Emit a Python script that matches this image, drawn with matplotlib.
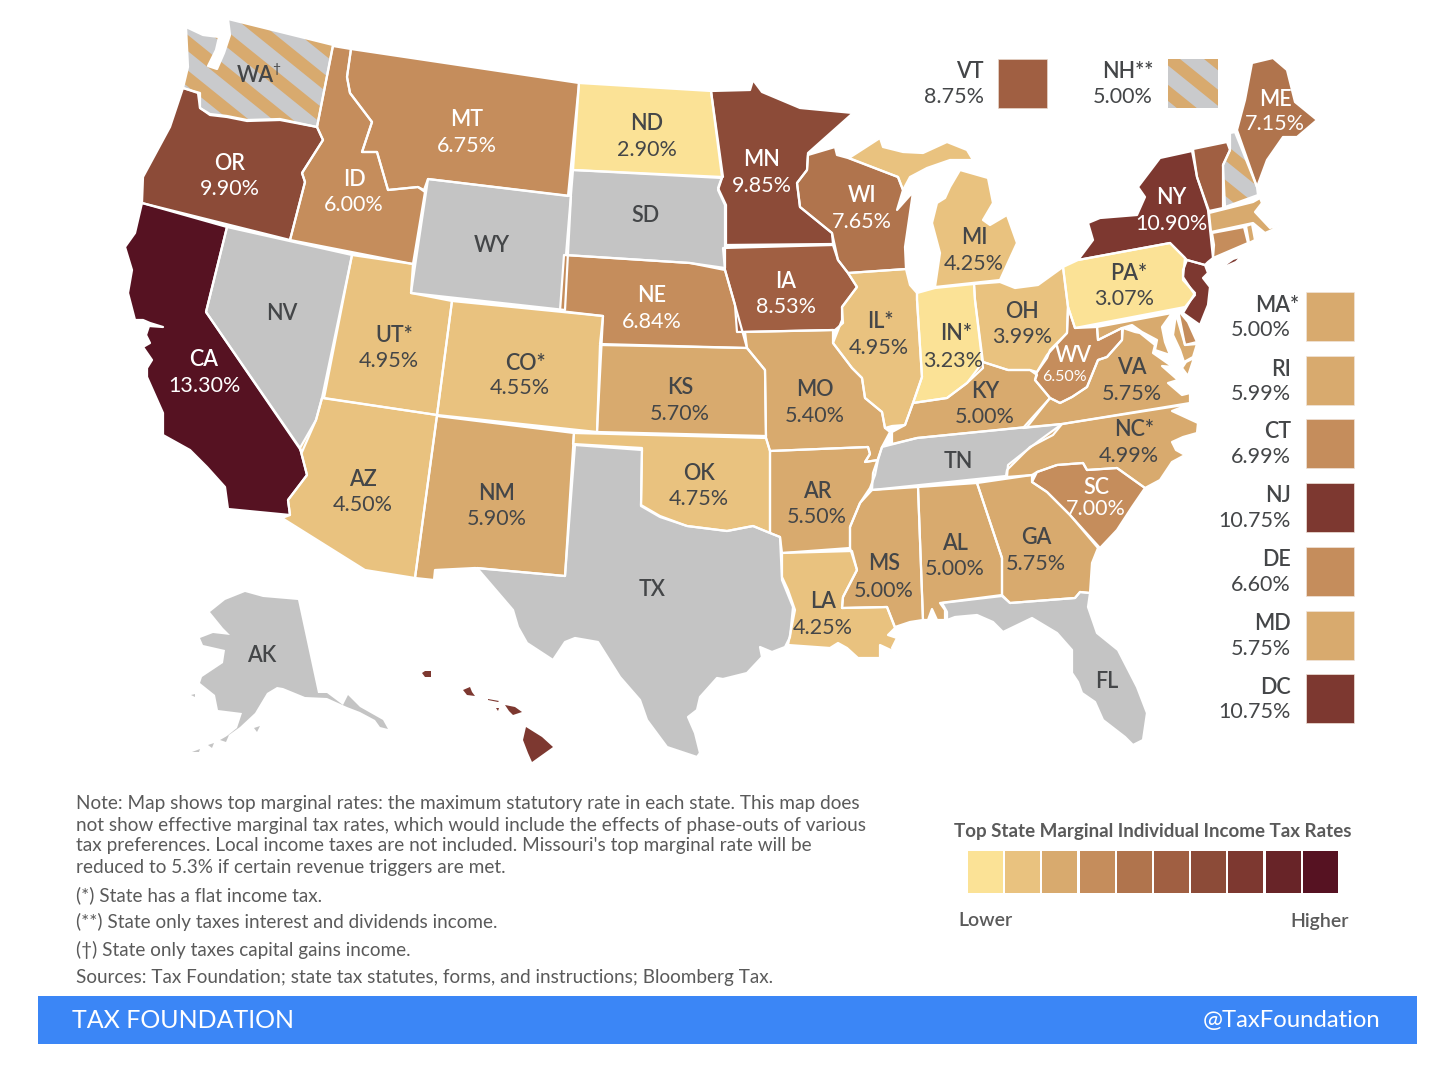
import numpy as np
import matplotlib
matplotlib.use('Agg')
import matplotlib.pyplot as plt
from matplotlib.patches import Polygon, Rectangle

plt.rcParams['font.family'] = ['Lato', 'DejaVu Sans']

# colour scale, low to high
scale = ['#FBE296', '#E9C27F', '#D8AA6E', '#C58D5C', '#B0744D',
         '#A05F42', '#8C4B38', '#7D3830', '#682428', '#561222']
gray = '#C4C4C4'
hatch_gray = '#C9CACC'
dark_text = '#444648'

# state, label, rate text, colour bin (-1 no tax, -2 striped)
states = ['WA', 'OR', 'CA', 'ID', 'NV', 'MT', 'WY', 'UT', 'AZ', 'CO', 'NM', 'ND', 'SD', 'NE', 'KS', 'OK', 'TX',
          'MN', 'IA', 'MO', 'AR', 'LA', 'WI', 'IL', 'MS', 'MI', 'IN', 'KY', 'TN', 'AL', 'OH', 'WV', 'GA', 'FL',
          'SC', 'NC', 'VA', 'PA', 'NY', 'ME', 'AK', 'HI']
labels = ['WA', 'OR', 'CA', 'ID', 'NV', 'MT', 'WY', 'UT*', 'AZ', 'CO*', 'NM', 'ND', 'SD', 'NE', 'KS', 'OK', 'TX',
          'MN', 'IA', 'MO', 'AR', 'LA', 'WI', 'IL*', 'MS', 'MI', 'IN*', 'KY', 'TN', 'AL', 'OH', 'WV', 'GA', 'FL',
          'SC', 'NC*', 'VA', 'PA*', 'NY', 'ME', 'AK', 'HI']
rates = ['', '9.90%', '13.30%', '6.00%', '', '6.75%', '', '4.95%', '4.50%', '4.55%', '5.90%', '2.90%', '', '6.84%',
         '5.70%', '4.75%', '', '9.85%', '8.53%', '5.40%', '5.50%', '4.25%', '7.65%', '4.95%', '5.00%', '4.25%',
         '3.23%', '5.00%', '', '5.00%', '3.99%', '6.50%', '5.75%', '', '7.00%', '4.99%', '5.75%', '3.07%',
         '10.90%', '7.15%', '', '11.00%']
bins = [-2, 6, 9, 3, -1, 3, -1, 1, 1, 1, 2, 0, -1, 3, 2, 1, -1, 6, 5, 2, 2, 1, 4, 1, 2, 1, 0, 2, -1, 2, 1, 3, 2, -1,
        3, 2, 2, 0, 7, 4, -1, 7]
label_x = [255, 230, 204, 354, 282, 467, 492, 394, 363, 525, 497, 647, 645, 652, 680, 699, 652, 762, 786, 815, 817,
           823, 862, 880, 884, 974, 956, 985, 958, 955, 1022, 1073, 1036, 1107, 1096, 1134, 1132, 1129, 1171, 1275,
           262, 471]
label_y = [73, 161, 358, 177, 311, 118, 243, 333, 477, 361, 491, 122, 214, 294, 386, 471, 587, 158, 279, 388, 489,
           600, 194, 319, 562, 236, 332, 390, 460, 541, 309, 354, 536, 679, 485, 428, 366, 271, 196, 97, 653, 718]
rate_dy = [0, 26, 26, 26, 0, 26, 0, 26, 26, 25, 26, 26, 0, 26, 26, 26, 0, 26, 26, 26, 26, 26, 26, 27, 27, 26, 27,
           25, 0, 26, 26, 21, 26, 0, 22, 26, 26, 26, 26, 25, 0, 26]
rate_dx = {'UT': -5, 'CO': -5, 'IL': -1, 'IN': -3, 'NC': -5, 'PA': -5, 'WV': -9}

# extra pieces not labelled on the map
extras = ['VT', 'NH', 'MA', 'RI', 'CT', 'NJ', 'DE', 'MD']
extra_bins = [5, -2, 2, 2, 3, 7, 3, 2]

# outlines in picture pixels
outlines = {
    'WA': [[(186, 27), (203, 35), (219, 37), (216, 50), (208, 66), (217, 69), (224, 53), (230, 35), (228, 19),
            (333, 45), (317, 127), (280, 119), (247, 120), (227, 116), (210, 114), (200, 108), (200, 93), (183, 88),
            (188, 67)]],
    'OR': [[(183, 88), (198, 93), (200, 108), (210, 115), (227, 117), (247, 121), (280, 120), (317, 127), (323, 140),
            (302, 173), (305, 182), (290, 240), (142, 203), (143, 177), (170, 127)]],
    'CA': [[(142, 203), (227, 227), (206, 312), (300, 448), (307, 475), (288, 500), (290, 515), (228, 509), (225, 487),
            (207, 467), (190, 450), (163, 435), (163, 413), (147, 377), (147, 368), (152, 360), (143, 347), (150, 343),
            (146, 335), (149, 326), (163, 327), (150, 323), (143, 320), (135, 320), (128, 293), (132, 270), (125, 247),
            (135, 233)]],
    'ID': [[(333, 46), (351, 49), (347, 77), (350, 93), (372, 122), (365, 143), (362, 152), (377, 152), (388, 190),
            (418, 187), (425, 192), (413, 264), (290, 240), (305, 182), (302, 173), (323, 140), (317, 127)]],
    'NV': [[(227, 227), (352, 255), (322, 398), (316, 420), (302, 452), (206, 312)]],
    'MT': [[(351, 49), (579, 83), (568, 196), (428, 179), (424, 190), (418, 187), (388, 190), (377, 152), (362, 152),
            (365, 143), (372, 122), (350, 93), (347, 77)]],
    'WY': [[(428, 179), (571, 196), (565, 310), (411, 293)]],
    'UT': [[(352, 255), (413, 264), (411, 293), (452, 301), (437, 415), (324, 398)]],
    'AZ': [[(322, 398), (437, 415), (415, 578), (365, 570), (282, 518), (290, 515), (288, 500), (307, 475), (300, 448), (316, 420)]],
    'CO': [[(452, 301), (603, 316), (597, 432), (437, 415)]],
    'NM': [[(437, 416), (574, 433), (565, 576), (475, 568), (435, 570), (434, 580), (415, 578)]],
    'ND': [[(579, 83), (711, 91), (723, 177), (573, 170)]],
    'SD': [[(573, 170), (722, 178), (718, 190), (725, 205), (725, 268), (690, 263), (566, 255)]],
    'NE': [[(564, 255), (690, 263), (725, 270), (735, 305), (747, 348), (600, 344), (603, 316), (560, 311)]],
    'KS': [[(600, 345), (747, 348), (765, 370), (766, 436), (597, 432)]],
    'OK': [[(574, 433), (766, 438), (770, 451), (770, 533), (753, 526), (727, 531), (687, 526), (660, 516), (641, 505),
            (642, 448), (573, 444)]],
    'TX': [[(575, 445), (642, 450), (641, 506), (660, 517), (687, 526), (727, 531), (753, 526), (770, 533), (780, 537),
            (782, 580), (793, 607), (790, 637), (785, 647), (772, 652), (760, 647), (762, 657), (747, 673), (723, 679),
            (717, 678), (700, 697), (697, 710), (688, 717), (695, 733), (700, 753), (697, 757), (667, 747), (647, 720),
            (640, 700), (620, 677), (598, 642), (575, 638), (565, 642), (553, 660), (527, 643), (518, 627), (513, 610),
            (477, 568), (565, 576)]],
    'MN': [[(711, 91), (750, 90), (753, 80), (762, 92), (800, 108), (853, 113), (808, 153), (807, 170), (797, 183),
            (800, 207), (832, 233), (833, 244), (726, 245), (726, 205), (718, 188), (722, 177)]],
    'IA': [[(723, 248), (833, 245), (838, 260), (848, 273), (857, 287), (842, 307), (843, 323), (835, 330), (737, 332),
            (735, 305), (725, 270)]],
    'MO': [[(745, 332), (833, 330), (833, 343), (852, 368), (862, 378), (865, 398), (882, 412), (885, 428), (890, 432),
            (882, 447), (878, 460), (865, 462), (870, 454), (868, 447), (770, 451), (766, 438), (765, 370), (747, 348)]],
    'AR': [[(770, 451), (868, 447), (870, 454), (865, 462), (878, 460), (875, 475), (870, 488), (860, 503), (850, 527),
            (850, 548), (782, 553), (780, 537), (770, 533)]],
    'LA': [[(782, 553), (852, 551), (857, 570), (843, 597), (842, 608), (887, 607), (895, 628), (888, 635), (897, 638),
            (892, 648), (907, 659), (895, 652), (880, 645), (880, 658), (858, 658), (847, 648), (838, 643), (830, 648),
            (788, 645), (795, 610), (788, 590), (782, 577)]],
    'WI': [[(808, 155), (835, 147), (837, 155), (848, 158), (898, 177), (903, 190), (897, 210), (913, 192), (905, 247),
            (906, 269), (848, 273), (838, 260), (832, 233), (800, 207), (797, 183), (807, 170)]],
    'IL': [[(848, 273), (906, 269), (910, 285), (917, 293), (917, 300), (922, 377), (913, 403), (905, 425), (892, 426),
            (885, 428), (882, 412), (865, 398), (862, 378), (852, 368), (833, 343), (842, 320), (842, 307), (857, 287)]],
    'MS': [[(872, 490), (918, 487), (923, 620), (910, 622), (895, 627), (887, 607), (842, 608), (843, 597), (857, 570),
            (850, 548), (850, 527), (860, 503)]],
    'MI': [[(849, 158), (880, 138), (883, 147), (903, 152), (923, 153), (947, 142), (967, 150), (973, 160), (950, 160),
            (927, 168), (910, 177), (903, 190), (898, 177)],
           [(960, 170), (988, 178), (993, 203), (983, 220), (990, 225), (1007, 215), (1017, 243), (1000, 280), (935, 287),
            (940, 253), (932, 223), (937, 203), (945, 198), (950, 187)]],
    'IN': [[(917, 293), (935, 288), (974, 284), (975, 300), (983, 368), (967, 383), (947, 398), (913, 403), (922, 377),
            (917, 300)]],
    'KY': [[(892, 444), (892, 432), (905, 425), (913, 403), (947, 398), (967, 383), (983, 362), (1008, 370), (1030, 370),
            (1037, 375), (1035, 380), (1050, 398), (1027, 427), (917, 438)]],
    'TN': [[(882, 447), (917, 438), (1018, 428), (1062, 424), (1053, 435), (1030, 447), (1007, 470), (1006, 476),
            (872, 490), (873, 473)]],
    'AL': [[(918, 487), (977, 483), (1002, 558), (1002, 595), (940, 603), (945, 610), (945, 620), (937, 620), (932, 609),
            (928, 620), (923, 620)]],
    'OH': [[(974, 284), (1000, 282), (1015, 288), (1038, 285), (1063, 267), (1068, 307), (1067, 333), (1050, 350),
            (1047, 358), (1037, 372), (1030, 370), (1008, 370), (983, 362), (975, 300)]],
    'WV': [[(1068, 307), (1075, 328), (1097, 327), (1098, 340), (1122, 328), (1122, 340), (1107, 357), (1098, 360),
            (1087, 387), (1072, 397), (1060, 403), (1050, 398), (1035, 380), (1037, 372), (1047, 355), (1067, 333)]],
    'GA': [[(977, 483), (1032, 475), (1032, 482), (1047, 492), (1070, 515), (1098, 548), (1092, 563), (1090, 593),
            (1080, 592), (1075, 598), (1010, 603), (1002, 595), (1002, 558)]],
    'FL': [[(942, 603), (1002, 596), (1010, 603), (1075, 598), (1080, 592), (1090, 593), (1088, 607), (1097, 633),
            (1118, 650), (1137, 687), (1147, 713), (1143, 740), (1133, 745), (1125, 737), (1103, 720), (1095, 702),
            (1082, 693), (1078, 682), (1072, 673), (1072, 650), (1057, 633), (1032, 618), (1003, 632), (993, 622),
            (977, 615), (955, 617), (947, 620), (947, 612)]],
    'SC': [[(1032, 482), (1037, 472), (1057, 465), (1083, 463), (1087, 470), (1117, 468), (1145, 488), (1132, 507),
            (1117, 530), (1100, 548), (1070, 515), (1047, 492)]],
    'NC': [[(1062, 424), (1190, 404), (1172, 411), (1185, 417), (1198, 423), (1197, 433), (1183, 437), (1172, 442),
            (1176, 450), (1185, 455), (1172, 462), (1160, 480), (1145, 488), (1117, 468), (1087, 470),
            (1083, 463), (1057, 465), (1037, 472), (1032, 475), (1007, 477), (1008, 465), (1027, 450), (1040, 440)]],
    'VA': [[(1123, 328), (1135, 332), (1140, 333), (1155, 345), (1153, 353), (1173, 367), (1162, 366), (1178, 380),
            (1168, 383), (1182, 395), (1190, 393), (1190, 403), (1062, 424), (1023, 428), (1050, 398), (1060, 403),
            (1072, 397), (1087, 387), (1098, 360), (1107, 357), (1122, 340)],
           [(1194, 358), (1188, 376), (1182, 368), (1186, 362)]],
    'PA': [[(1063, 267), (1078, 260), (1170, 243), (1185, 258), (1183, 277), (1195, 295), (1185, 307), (1075, 328),
            (1068, 307)]],
    'NY': [[(1078, 260), (1093, 240), (1088, 223), (1100, 218), (1137, 215), (1145, 197), (1138, 187), (1160, 158),
            (1192, 151), (1197, 177), (1208, 210), (1213, 258), (1208, 262), (1205, 265), (1187, 260), (1170, 243)],
           [(1209, 276), (1233, 259), (1242, 256), (1236, 262), (1213, 272)]],
    'ME': [[(1237, 130), (1245, 100), (1252, 63), (1273, 58), (1287, 70), (1295, 102), (1317, 120), (1297, 137),
            (1283, 137), (1267, 160), (1257, 187)]],
    'VT': [[(1193, 149), (1227, 142), (1230, 150), (1223, 165), (1223, 208), (1209, 211), (1197, 177)]],
    'NH': [[(1230, 133), (1235, 132), (1257, 187), (1258, 195), (1225, 207), (1223, 165), (1230, 150)]],
    'MA': [[(1209, 213), (1253, 202), (1260, 198), (1262, 203), (1255, 212), (1270, 228), (1282, 223), (1272, 230),
            (1265, 233), (1253, 223), (1211, 232)]],
    'RI': [[(1246, 226), (1252, 224), (1255, 240), (1249, 243)]],
    'CT': [[(1212, 233), (1244, 227), (1248, 243), (1213, 258), (1214, 245)]],
    'NJ': [[(1187, 260), (1205, 265), (1208, 273), (1203, 278), (1210, 287), (1208, 305), (1200, 325), (1183, 313),
            (1195, 293), (1183, 280), (1183, 270)]],
    'DE': [[(1178, 310), (1188, 322), (1197, 342), (1185, 345)]],
    'MD': [[(1097, 327), (1172, 313), (1162, 327), (1165, 342), (1170, 355), (1155, 350), (1157, 340), (1142, 332),
            (1132, 325), (1122, 328), (1098, 340)],
           [(1176, 314), (1185, 345), (1197, 344), (1193, 357), (1184, 362), (1180, 350), (1173, 335)]],
    'AK': [[(245, 592), (263, 597), (298, 600), (318, 693), (327, 693), (343, 705), (348, 695), (360, 707), (383, 720),
            (388, 729), (380, 727), (375, 720), (360, 712), (347, 707), (327, 698), (305, 697), (283, 688), (277, 687),
            (267, 693), (255, 713), (240, 727), (222, 740), (237, 728), (242, 713), (218, 710), (215, 695), (200, 683),
            (202, 677), (223, 663), (225, 650), (203, 645), (200, 638), (213, 633), (230, 635), (223, 628), (210, 612),
            (225, 600)],
           [(220, 740), (229, 735), (226, 742)], [(208, 745), (214, 743), (212, 748)], [(192, 752), (200, 749), (199, 752)],
           [(191, 695), (195, 694), (195, 697)], [(254, 728), (260, 726), (257, 732)]],
    'HI': [[(526, 727), (542, 737), (553, 747), (532, 762), (528, 753), (523, 740)],
           [(505, 705), (515, 707), (522, 712), (513, 715), (509, 711)],
           [(488, 699), (499, 701), (498, 702), (488, 700)], [(496, 708), (499, 708), (498, 711)],
           [(463, 690), (470, 687), (472, 692), (475, 696), (467, 695)],
           [(422, 673), (425, 671), (431, 671), (431, 677), (425, 677)]],
}
no_edge = ['AK', 'HI']

# legend on the right
side_names = ['MA*', 'RI', 'CT', 'NJ', 'DE', 'MD', 'DC']
side_rates = ['5.00%', '5.99%', '6.99%', '10.75%', '6.60%', '5.75%', '10.75%']
side_bins = [2, 2, 3, 7, 3, 2, 7]
side_top = [292, 356, 419, 483, 547, 611, 674]

note_lines = ["Note: Map shows top marginal rates: the maximum statutory rate in each state. This map does",
              "not show effective marginal tax rates, which would include the effects of phase-outs of various",
              "tax preferences. Local income taxes are not included. Missouri's top marginal rate will be",
              "reduced to 5.3% if certain revenue triggers are met."]
note_y = [803, 824, 845, 866]
foot_lines = ["(*) State has a flat income tax.",
              "(**) State only taxes interest and dividends income.",
              "(†) State only taxes capital gains income.",
              "Sources: Tax Foundation; state tax statutes, forms, and instructions; Bloomberg Tax."]
foot_y = [894, 921, 949, 977]


def striped(ax, patch, box, start):
    # tan stripes running down to the right, clipped to the shape
    x0, y0, x1, y1 = box
    h = y1 - y0
    first = start - 44 * np.ceil((start - (x0 - 1.24 * h - 44)) / 44)
    for s in np.arange(first, x1 + 44, 44):
        st = Polygon([(s, y0), (s + 20, y0), (s + 20 + 1.24 * h, y1), (s + 1.24 * h, y1)],
                     closed=True, fc=scale[2], ec='none', zorder=2)
        ax.add_patch(st)
        st.set_clip_path(patch)


fig = plt.figure(figsize=(14.52, 10.66), dpi=100)
ax = fig.add_axes([0, 0, 1, 1])
ax.set_xlim(0, 1452)
ax.set_ylim(1066, 0)
ax.axis('off')

stripe_start = {'WA': 280, 'NH': 1190}


def draw_state(code, b):
    for pts in outlines[code]:
        fc = gray if b == -1 else (hatch_gray if b == -2 else scale[b])
        p = Polygon(pts, closed=True, fc=fc, ec='none', zorder=1)
        ax.add_patch(p)
        if b == -2:
            xs = [q[0] for q in pts]
            ys = [q[1] for q in pts]
            striped(ax, p, (min(xs), min(ys), max(xs), max(ys)), stripe_start[code])
        if code not in no_edge:
            ax.add_patch(Polygon(pts, closed=True, fc='none', ec='white', lw=1.6, zorder=3, joinstyle='round'))


for code, b in zip(states, bins):
    draw_state(code, b)
for code, b in zip(extras, extra_bins):
    draw_state(code, b)

fs = 15.5
for code, lab, r, b, x, y, dy in zip(states, labels, rates, bins, label_x, label_y, rate_dy):
    col = 'white' if b >= 3 else dark_text
    ax.text(x, y + 2, lab, ha='center', va='center', color=col, fontsize=fs, fontweight='semibold', zorder=5)
    if r:
        ax.text(x + rate_dx.get(code, 0), y + dy + 2, r, ha='center', va='center', color=col,
                fontsize=11.5 if code == 'WV' else fs, zorder=5)
ax.text(272, 69, '†', ha='left', va='center', color=dark_text, fontsize=10, zorder=5)

# top legend
ax.add_patch(Rectangle((998, 59), 49, 49, fc=scale[5], ec='#E8D8CC', lw=0.5))
ax.text(984, 72, 'VT', ha='right', va='center', color=dark_text, fontsize=fs, fontweight='semibold')
ax.text(984, 97, '8.75%', ha='right', va='center', color=dark_text, fontsize=fs)
nh_box = Rectangle((1168, 59), 50, 49, fc=hatch_gray, ec='none', zorder=1)
ax.add_patch(nh_box)
striped(ax, nh_box, (1168, 59, 1218, 108), 1204)
ax.text(1153, 72, 'NH**', ha='right', va='center', color=dark_text, fontsize=fs, fontweight='semibold')
ax.text(1153, 97, '5.00%', ha='right', va='center', color=dark_text, fontsize=fs)

# side legend
for nm, r, b, top in zip(side_names, side_rates, side_bins, side_top):
    ax.add_patch(Rectangle((1306, top), 48, 49, fc=scale[b], ec='#F0E4DA', lw=0.5))
    ax.text(1299 if '*' in nm else 1291, top + 13, nm, ha='right', va='center', color=dark_text, fontsize=fs, fontweight='semibold')
    ax.text(1291, top + 38, r, ha='right', va='center', color=dark_text, fontsize=fs)

# notes
for t, y in zip(note_lines, note_y):
    ax.text(76, y + 1, t, ha='left', va='center', color='#5A5A5A', fontsize=13.65)
for t, y in zip(foot_lines, foot_y):
    ax.text(76, y + 1, t, ha='left', va='center', color='#5A5A5A', fontsize=13.6)

# colour scale
ax.text(1153, 832, 'Top State Marginal Individual Income Tax Rates', ha='center', va='center', color='#5A5A5A',
        fontsize=13.5, fontweight='bold')
for i, c in enumerate(scale):
    ax.add_patch(Rectangle((968 + i * 37.2, 851), 35, 42, fc=c, ec='none'))
ax.text(985, 921, 'Lower', ha='center', va='center', color='#5A5A5A', fontsize=14, fontweight='semibold')
ax.text(1320, 921, 'Higher', ha='center', va='center', color='#5A5A5A', fontsize=14, fontweight='semibold')

# footer bar
ax.add_patch(Rectangle((38, 996), 1379, 48, fc='#3B86F6', ec='none'))
ax.text(72, 1021, 'TAX FOUNDATION', ha='left', va='center', color='white', fontsize=18)
ax.text(1381, 1021, '@TaxFoundation', ha='right', va='center', color='white', fontsize=17.2)

fig.savefig('out.png', dpi=100)
